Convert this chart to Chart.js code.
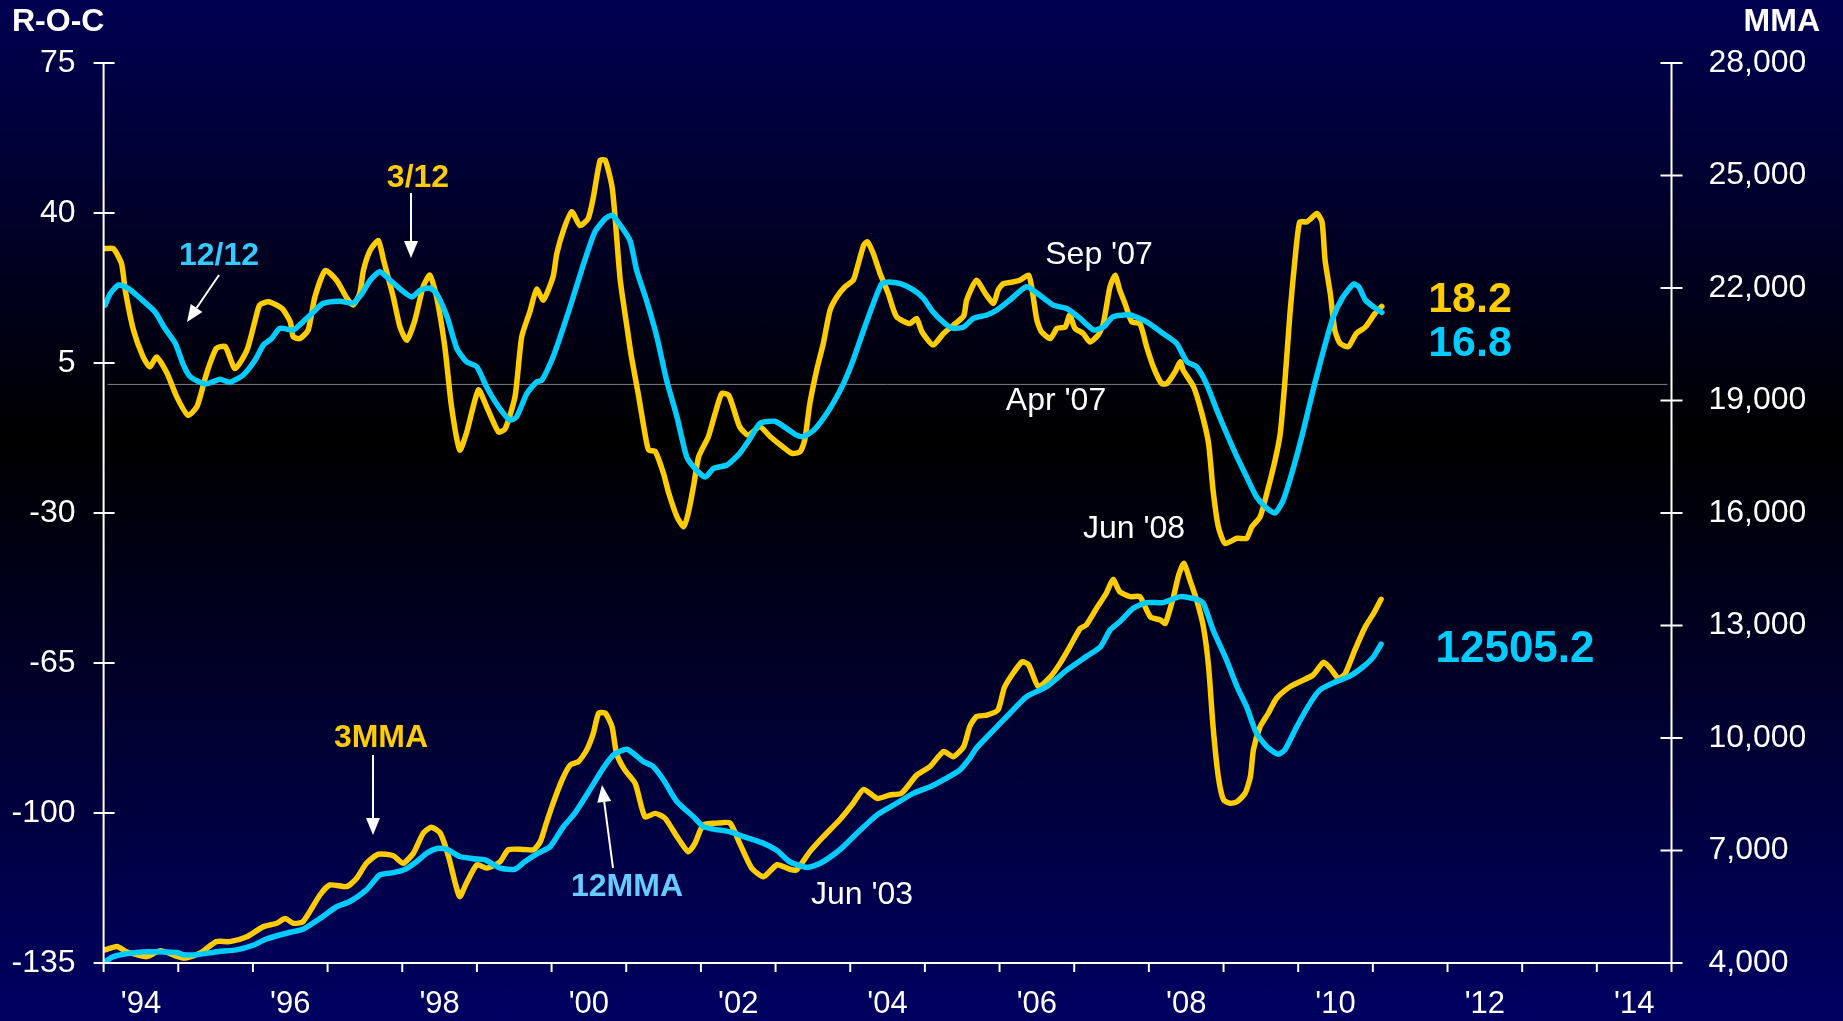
<!DOCTYPE html>
<html>
<head>
<meta charset="utf-8">
<script src="https://cdn.jsdelivr.net/npm/chart.js@4"></script>
<style>
  html, body { margin: 0; padding: 0; overflow: hidden; }
  body { width: 1843px; height: 1021px; background: linear-gradient(to bottom, #000052 0%, #000000 43%, #000062 100%); }
  canvas { display: block; }
</style>
</head>
<body>
<canvas id="roc" width="1843" height="1021"></canvas>
<script>
// x values are decimal years
const roc3Dates = [1994.02,1994.13,1994.24,1994.29,1994.40,1994.53,1994.62,1994.71,1994.85,1994.98,1995.13,1995.25,1995.38,1995.51,1995.63,1995.76,1995.92,1996.03,1996.09,1996.21,1996.39,1996.50,1996.54,1996.63,1996.74,1996.83,1996.97,1997.12,1997.26,1997.34,1997.43,1997.48,1997.57,1997.68,1997.75,1997.88,1997.97,1998.06,1998.17,1998.28,1998.37,1998.46,1998.57,1998.66,1998.77,1998.86,1999.02,1999.13,1999.29,1999.38,1999.51,1999.60,1999.71,1999.80,1999.89,2000.02,2000.07,2000.16,2000.27,2000.38,2000.49,2000.56,2000.65,2000.72,2000.81,2000.85,2000.92,2001.01,2001.07,2001.16,2001.25,2001.30,2001.39,2001.50,2001.57,2001.68,2001.77,2001.83,2001.90,2001.97,2002.10,2002.19,2002.28,2002.37,2002.43,2002.52,2002.63,2002.79,2002.93,2003.10,2003.22,2003.33,2003.39,2003.46,2003.55,2003.64,2003.73,2003.82,2003.93,2004.04,2004.09,2004.18,2004.23,2004.31,2004.40,2004.51,2004.62,2004.80,2004.89,2004.96,2005.11,2005.25,2005.38,2005.52,2005.56,2005.69,2005.81,2005.92,2005.98,2006.05,2006.18,2006.27,2006.39,2006.43,2006.50,2006.56,2006.68,2006.77,2006.88,2006.94,2007.01,2007.12,2007.21,2007.32,2007.39,2007.48,2007.55,2007.61,2007.68,2007.77,2007.88,2007.97,2008.06,2008.17,2008.24,2008.35,2008.42,2008.46,2008.60,2008.71,2008.80,2008.86,2008.93,2009.02,2009.18,2009.31,2009.38,2009.49,2009.58,2009.69,2009.76,2009.82,2009.89,2009.96,2010.02,2010.11,2010.17,2010.25,2010.32,2010.36,2010.43,2010.49,2010.56,2010.67,2010.78,2010.90,2011.03,2011.12];
const roc3Values = [31.7,31.7,28.2,22,12.7,6.4,4.1,6.4,2.6,-2.9,-7.2,-5.2,2.6,8.4,8.8,3.7,8.0,15.0,18.5,19.3,17.7,14.6,11.1,10.7,12.7,20.4,26.6,24.3,20.1,18.5,21.2,26.6,31.3,33.6,29.0,20.4,13.4,10.3,15.0,22.8,25.5,20.4,8.8,-5.2,-15.3,-11.4,-1.3,-5.2,-11.1,-10.3,-2.9,11.1,17,22.2,19.7,25.1,30.5,36.0,40.3,37.1,38.7,43.7,52.3,52.3,46.1,39.1,24.3,13.4,6.4,-2.1,-11.4,-15.3,-15.7,-20.8,-25.4,-30.9,-33.2,-30.1,-23.9,-16.9,-12.2,-6.8,-2.1,-2.5,-5.2,-9.9,-11.8,-9.9,-12.2,-14.6,-16.1,-15.7,-13.0,-4.4,3.3,9.6,17.3,20.4,22.8,24.3,27.0,32.5,33.3,30.5,25.9,21.2,15.8,14.2,15.4,12.3,9.2,11.9,13.8,16,19.7,24.3,21.2,18.9,22.0,23.5,23.9,24.3,25.5,22.8,15.0,12.3,10.7,13.1,13.4,16.2,13.1,11.9,9.9,11.5,14.2,22.8,25.5,22.0,18.9,14.6,14.2,8.8,4.1,0.2,0.2,2.9,5.3,3.3,-0.6,-6.8,-13.8,-24.7,-33.2,-37.1,-35.9,-35.9,-33.2,-30.9,-25.4,-17.7,-11.4,0.2,16.6,29.7,37.9,37.9,38.7,39.9,37.9,29.0,21.2,12.7,9.6,8.8,11.9,13.4,16.6,18.2];

const roc12Dates = [1994.02,1994.09,1994.20,1994.33,1994.49,1994.69,1994.82,1994.96,1995.07,1995.16,1995.36,1995.56,1995.69,1995.87,1996.03,1996.14,1996.25,1996.36,1996.54,1996.67,1996.81,1996.94,1997.17,1997.34,1997.46,1997.57,1997.70,1997.84,1997.99,1998.13,1998.24,1998.37,1998.46,1998.60,1998.73,1998.86,1999.00,1999.13,1999.29,1999.44,1999.53,1999.67,1999.80,1999.87,2000.02,2000.16,2000.29,2000.43,2000.58,2000.72,2000.81,2000.89,2001.05,2001.14,2001.27,2001.41,2001.54,2001.68,2001.81,2001.94,2002.06,2002.17,2002.35,2002.52,2002.66,2002.79,2002.99,2003.15,2003.28,2003.37,2003.51,2003.64,2003.77,2003.91,2004.04,2004.18,2004.31,2004.42,2004.51,2004.67,2004.85,2004.98,2005.11,2005.27,2005.38,2005.52,2005.65,2005.83,2005.96,2006.14,2006.36,2006.54,2006.72,2006.90,2007.08,2007.26,2007.39,2007.52,2007.75,2007.97,2008.19,2008.37,2008.51,2008.64,2008.77,2008.91,2009.04,2009.18,2009.31,2009.44,2009.58,2009.69,2009.80,2009.94,2010.07,2010.20,2010.34,2010.47,2010.60,2010.74,2010.81,2010.90,2011.01,2011.12];
const roc12Values = [18.5,21.2,23.2,22.4,20.1,16.9,13.1,9.6,4.5,1.8,0.1,1.2,0.5,2.2,5.7,9.2,10.7,13.1,12.7,14.6,16.9,18.9,19.4,19.0,21.2,24.3,26.3,24.3,22.0,20.4,22.0,22.5,21.2,15.8,8.4,5.3,4.1,-0.6,-5.2,-8.3,-7.6,-2.1,0.6,1.0,6.4,13.4,20.4,28.2,35.6,38.7,39.5,37.9,33.6,26.6,19.7,11.1,1.0,-7.6,-16.9,-20.0,-21.6,-19.6,-18.8,-16.1,-12.6,-9.1,-8.6,-10.3,-11.8,-12.2,-10.7,-7.9,-4.4,0.2,5.7,12.7,18.9,23.5,23.9,23.5,22.0,20.1,16.9,14.2,13.1,13.4,15.4,16.2,17.3,19.7,22.8,20.8,18.5,17.7,15.4,12.7,13.4,15.8,16.2,14.6,11.9,9.6,5.3,4.1,0.2,-6.0,-11.4,-16.9,-21.6,-26.2,-28.9,-30.0,-27.0,-19.2,-10.7,-1.3,8.0,15.8,20.4,23.4,22.8,19.7,18.1,16.8];

const mma3Dates = [1994.02,1994.18,1994.31,1994.58,1994.76,1995.07,1995.29,1995.51,1995.69,1995.92,1996.14,1996.32,1996.43,1996.54,1996.67,1996.90,1997.03,1997.26,1997.39,1997.52,1997.68,1997.88,1998.01,1998.15,1998.28,1998.39,1998.51,1998.62,1998.71,1998.77,1998.86,1999.00,1999.13,1999.31,1999.42,1999.62,1999.76,1999.85,1999.93,2000.02,2000.14,2000.25,2000.36,2000.47,2000.56,2000.63,2000.72,2000.81,2000.87,2000.98,2001.12,2001.25,2001.39,2001.52,2001.68,2001.83,2001.92,2002.03,2002.21,2002.39,2002.52,2002.68,2002.84,2003.02,2003.19,2003.28,2003.46,2003.64,2003.86,2004.04,2004.18,2004.36,2004.53,2004.69,2004.89,2005.07,2005.25,2005.38,2005.52,2005.60,2005.69,2005.83,2005.98,2006.07,2006.30,2006.39,2006.52,2006.68,2006.81,2006.94,2007.08,2007.16,2007.30,2007.43,2007.52,2007.61,2007.75,2007.88,2008.02,2008.15,2008.22,2008.33,2008.40,2008.47,2008.55,2008.64,2008.73,2008.80,2008.86,2008.93,2009.00,2009.09,2009.18,2009.29,2009.36,2009.40,2009.49,2009.60,2009.71,2009.89,2010.02,2010.20,2010.34,2010.43,2010.54,2010.63,2010.76,2010.90,2011.01,2011.11];
const mma3Values = [4350,4440,4300,4170,4330,4130,4260,4570,4570,4700,4970,5060,5190,5060,5100,5820,6080,6040,6260,6660,6900,6860,6660,6930,7460,7620,7460,6840,6130,5770,6130,6620,6530,6700,7020,7030,7020,7240,7730,8260,8880,9280,9370,9680,10130,10660,10660,10300,9590,9150,8790,7900,7990,7860,7370,6970,7190,7680,7730,7730,7190,6530,6300,6620,6500,6480,6970,7370,7820,8260,8630,8390,8480,8530,9010,9240,9640,9500,9770,10300,10570,10610,10750,11370,12030,11950,11370,11630,11990,12430,12920,13010,13460,13860,14230,13900,13770,13770,13230,13150,13060,13770,14350,14660,14210,13680,12970,11900,10300,8970,8350,8260,8300,8530,8970,9680,10300,10660,11060,11370,11500,11680,12020,11860,11590,11720,12350,12970,13320,13700];

const mma12Dates = [1994.02,1994.13,1994.35,1994.58,1994.98,1995.07,1995.29,1995.51,1995.78,1996.01,1996.18,1996.50,1996.67,1996.90,1997.12,1997.30,1997.52,1997.70,1997.88,1998.04,1998.19,1998.33,1998.48,1998.60,1998.77,1998.95,1999.11,1999.31,1999.51,1999.64,1999.82,1999.98,2000.16,2000.31,2000.51,2000.69,2000.83,2001.01,2001.23,2001.36,2001.50,2001.68,2001.90,2002.03,2002.17,2002.39,2002.57,2002.84,2003.02,2003.19,2003.42,2003.60,2003.86,2004.09,2004.36,2004.62,2004.85,2005.07,2005.29,2005.47,2005.60,2005.69,2005.92,2006.14,2006.36,2006.63,2006.90,2007.16,2007.35,2007.48,2007.61,2007.79,2007.97,2008.19,2008.42,2008.64,2008.73,2008.86,2009.04,2009.18,2009.31,2009.44,2009.58,2009.73,2009.82,2009.98,2010.16,2010.29,2010.47,2010.69,2010.87,2011.01,2011.11];
const mma12Values = [4040,4170,4260,4300,4280,4220,4230,4300,4350,4480,4640,4820,4900,5190,5500,5640,5950,6350,6410,6500,6700,6930,7060,7030,6840,6780,6750,6530,6500,6700,6930,7100,7640,7990,8610,9190,9550,9700,9370,9240,8880,8300,7900,7640,7570,7500,7370,7190,7000,6700,6550,6660,7020,7460,7950,8260,8530,8700,8930,9150,9460,9730,10210,10660,11100,11370,11810,12170,12430,12880,13100,13460,13610,13610,13770,13700,13590,12880,12080,11370,10830,10130,9770,9570,9680,10300,10930,11280,11470,11650,11900,12170,12505.2];

const labelYears = [1994, 1996, 1998, 2000, 2002, 2004, 2006, 2008, 2010, 2012, 2014];
const yearLabels = ["'94", "'96", "'98", "'00", "'02", "'04", "'06", "'08", "'10", "'12", "'14"];

const GOLD = '#FFCC00';
const CYAN = '#00CCFF';
const FONT = '"Liberation Sans", Arial, sans-serif';

const pts = (xs, ys) => xs.map((x, i) => ({ x: x, y: ys[i] }));

const notes = [
  { text: 'R-O-C', x: 12, y: 22, bold: true, size: 32, color: '#fff', align: 'left' },
  { text: 'MMA', x: 1820, y: 22, bold: true, size: 32, color: '#fff', align: 'right' },
  { text: '3/12', x: 418, y: 178, bold: true, size: 32, color: GOLD },
  { text: '12/12', x: 219, y: 256, bold: true, size: 32, color: '#33CCFF' },
  { text: "Sep '07", x: 1099, y: 255, size: 32, color: '#fff' },
  { text: "Apr '07", x: 1056, y: 401, size: 32, color: '#fff' },
  { text: '18.2', x: 1470, y: 300, bold: true, size: 43, color: GOLD },
  { text: '16.8', x: 1470, y: 344, bold: true, size: 43, color: CYAN },
  { text: '12505.2', x: 1515, y: 650, bold: true, size: 44, color: CYAN },
  { text: '3MMA', x: 381, y: 738, bold: true, size: 32, color: GOLD },
  { text: '12MMA', x: 627, y: 887, bold: true, size: 32, color: '#66CCFF' },
  { text: "Jun '08", x: 1134, y: 529, size: 32, color: '#fff' },
  { text: "Jun '03", x: 862, y: 895, size: 32, color: '#fff' }
];
const arrows = [
  [411, 193, 411, 258],
  [219, 275, 187, 322],
  [373, 755, 373, 835],
  [613, 868, 602, 785]
];

function drawArrow(ctx, x1, y1, x2, y2) {
  const a = Math.atan2(y2 - y1, x2 - x1);
  const len = 17, hw = 7;
  const bx = x2 - len * Math.cos(a), by = y2 - len * Math.sin(a);
  ctx.beginPath();
  ctx.moveTo(x1, y1);
  ctx.lineTo(bx, by);
  ctx.stroke();
  ctx.beginPath();
  ctx.moveTo(x2, y2);
  ctx.lineTo(bx + hw * Math.sin(a), by - hw * Math.cos(a));
  ctx.lineTo(bx - hw * Math.sin(a), by + hw * Math.cos(a));
  ctx.closePath();
  ctx.fill();
}

const decor = {
  id: 'decor',
  beforeDatasetsDraw(chart) {
    const ctx = chart.ctx, area = chart.chartArea;
    const y0 = chart.scales.y.getPixelForValue(0);
    ctx.save();
    ctx.strokeStyle = 'rgba(170,170,170,0.75)';
    ctx.lineWidth = 1;
    ctx.beginPath();
    ctx.moveTo(area.left + 4, y0);
    ctx.lineTo(area.right - 4, y0);
    ctx.stroke();
    ctx.restore();
  },
  afterDraw(chart) {
    const ctx = chart.ctx, area = chart.chartArea;
    const sx = chart.scales.x, sl = chart.scales.y, sr = chart.scales.y2;
    ctx.save();
    ctx.strokeStyle = '#fff';
    ctx.fillStyle = '#fff';
    ctx.lineWidth = 2;
    ctx.beginPath();
    ctx.moveTo(area.left, area.top);
    ctx.lineTo(area.left, area.bottom);
    ctx.lineTo(area.right, area.bottom);
    ctx.moveTo(area.right, area.top);
    ctx.lineTo(area.right, area.bottom);
    sl.ticks.forEach(t => {
      const y = sl.getPixelForValue(t.value);
      ctx.moveTo(area.left - 10, y);
      ctx.lineTo(area.left + 11, y);
    });
    sr.ticks.forEach(t => {
      const y = sr.getPixelForValue(t.value);
      ctx.moveTo(area.right - 11, y);
      ctx.lineTo(area.right + 11, y);
    });
    for (let yr = 1994; yr <= 2015; yr++) {
      const x = sx.getPixelForValue(yr);
      ctx.moveTo(x, area.bottom);
      ctx.lineTo(x, area.bottom + 9);
    }
    ctx.stroke();

    arrows.forEach(a => drawArrow(ctx, a[0], a[1], a[2], a[3]));

    ctx.textBaseline = 'middle';
    notes.forEach(n => {
      ctx.font = (n.bold ? 'bold ' : '') + n.size + 'px ' + FONT;
      ctx.fillStyle = n.color;
      ctx.textAlign = n.align || 'center';
      ctx.fillText(n.text, n.x, n.y);
    });
    ctx.restore();
  }
};

const tickFont = { size: 32, family: FONT };

new Chart(document.getElementById('roc'), {
  type: 'line',
  data: {
    datasets: [
      { label: '3/12', data: pts(roc3Dates, roc3Values), borderColor: GOLD, yAxisID: 'y', order: 2 },
      { label: '12/12', data: pts(roc12Dates, roc12Values), borderColor: CYAN, yAxisID: 'y', order: 1 },
      { label: '3MMA', data: pts(mma3Dates, mma3Values), borderColor: GOLD, yAxisID: 'y2', order: 2 },
      { label: '12MMA', data: pts(mma12Dates, mma12Values), borderColor: CYAN, yAxisID: 'y2', order: 1 }
    ]
  },
  options: {
    responsive: false,
    animation: false,
    devicePixelRatio: 1,
    layout: { padding: { top: 63, left: 0, right: 0, bottom: 0 } },
    elements: {
      line: { borderWidth: 5.5, tension: 0.2, borderJoinStyle: 'round', borderCapStyle: 'round' },
      point: { radius: 0 }
    },
    plugins: { legend: { display: false }, tooltip: { enabled: false } },
    scales: {
      x: {
        type: 'linear', min: 1994, max: 2015,
        afterBuildTicks: s => { s.ticks = labelYears.map(y => ({ value: y + 0.5 })); },
        afterFit: s => { s.height = 58; },
        ticks: { callback: (v, i) => yearLabels[i], color: '#fff', font: { size: 31, family: FONT }, padding: 23, maxRotation: 0, autoSkip: false },
        grid: { display: false, drawTicks: false },
        border: { display: false }
      },
      y: {
        position: 'left', min: -135, max: 75,
        afterFit: s => { s.width = 103.6; },
        ticks: { stepSize: 35, color: '#fff', font: tickFont, padding: 28 },
        grid: { display: false, drawTicks: false },
        border: { display: false }
      },
      y2: {
        position: 'right', min: 4000, max: 28000,
        afterFit: s => { s.width = 171.5; },
        ticks: { stepSize: 3000, color: '#fff', font: tickFont, padding: 37, callback: v => v.toLocaleString('en-US') },
        grid: { display: false, drawTicks: false },
        border: { display: false }
      }
    }
  },
  plugins: [decor]
});
</script>
</body>
</html>
